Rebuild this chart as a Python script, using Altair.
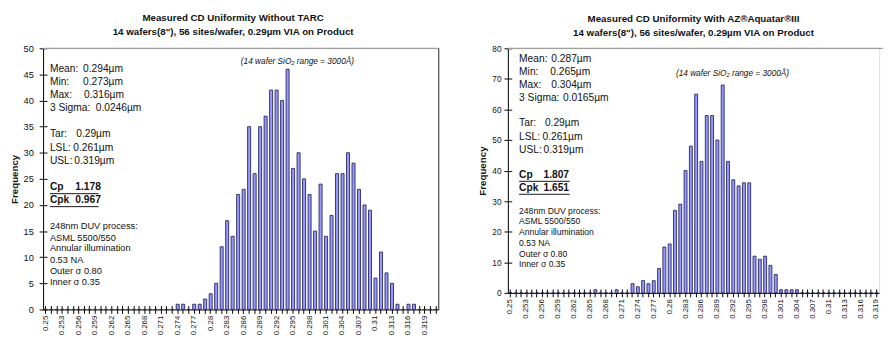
import altair as alt
import pandas as pd

FONT = "Liberation Sans"

# ---------------- data ----------------
bins_left = [f"{0.25 + i / 1000:.3f}" for i in range(72)]    # 0.250 .. 0.321
bins_right = [f"{0.25 + i / 1000:.3f}" for i in range(70)]   # 0.250 .. 0.319

counts_left = [0, 0, 0, 0, 0, 0, 0, 0, 0, 0,
               0, 0, 0, 0, 0, 0, 0, 0, 0, 0,
               0, 0, 0, 0, 1, 1, 0, 1, 1, 2,
               3, 5, 12, 17, 14, 22, 23, 35, 26, 35,
               37, 42, 42, 40, 46, 27, 30, 25, 22, 15,
               24, 14, 18, 26, 26, 30, 28, 23, 20, 19,
               6, 11, 7, 5, 1, 0, 1, 1, 0, 0,
               0, 0]

counts_right = [0, 0, 0, 0, 0, 0, 0, 0, 0, 0,
                0, 0, 0, 0, 0, 0, 1, 0, 0, 0,
                1, 0, 0, 3, 2, 4, 3, 4, 8, 15,
                16, 27, 29, 40, 48, 65, 43, 58, 58, 50,
                68, 43, 37, 35, 36, 36, 12, 11, 12, 9,
                6, 1, 1, 1, 1, 0, 0, 0, 0, 0,
                0, 0, 0, 0, 0, 0, 0, 0, 0, 0]

title_left = ["Measured CD Uniformity Without TARC",
              "14 wafers(8\"), 56 sites/wafer, 0.29µm VIA on Product"]
title_right = ["Measured CD Uniformity With AZ®Aquatar®III",
               "14 wafers(8\"), 56 sites/wafer, 0.29µm VIA on Product"]

stat_labels = ["Mean:", "Min:", "Max:", "3 Sigma:"]
stat_values_left = ["0.294µm", "0.273µm", "0.316µm", "0.0246µm"]
stat_values_right = ["0.287µm", "0.265µm", "0.304µm", "0.0165µm"]
spec_labels = ["Tar:", "LSL:", "USL:"]
spec_values = ["0.29µm", "0.261µm", "0.319µm"]
cp_labels = ["Cp", "Cpk"]
cp_values_left = ["1.178", "0.967"]
cp_values_right = ["1.807", "1.651"]
process_lines = ["248nm DUV process:", "ASML 5500/550", "Annular illumination",
                 "0.53 NA", "Outer σ 0.80", "Inner σ 0.35"]
note = "(14 wafer SiO₂ range = 3000Å)"


def txt(s, x, y, size=10.5, weight="normal", style="normal", align="left"):
    return alt.Chart(pd.DataFrame({"t": [s]})).mark_text(
        align=align, baseline="middle", fontSize=size, fontWeight=weight,
        fontStyle=style, font=FONT, color="#111111"
    ).encode(text="t:N", x=alt.value(x), y=alt.value(y))


def rule(x, x2, y, y2, color, sw=1.0):
    return alt.Chart(pd.DataFrame({"a": [0]})).mark_rule(
        color=color, strokeWidth=sw
    ).encode(x=alt.value(x), x2=alt.value(x2), y=alt.value(y), y2=alt.value(y2))


def panel(bins, counts, ymax, ystep, width, height, title, ylab_size,
          stat_vals, cp_vals, pos, title_dx):
    df = pd.DataFrame({"bin": bins, "count": counts})
    xscale = alt.Scale(paddingInner=0, paddingOuter=0)
    yscale = alt.Scale(domain=[0, ymax], nice=False)
    yvals = list(range(0, ymax + 1, ystep))
    xenc = alt.X(
        "bin:O", sort=bins, scale=xscale,
        axis=alt.Axis(
            title=None, labelAngle=-90, labelFontSize=8, labelFont=FONT,
            labelExpr="(round(toNumber(datum.value)*1000) % 3 == 1) ? toString(toNumber(datum.value)) : ''",
            labelOverlap=False, tickSize=4, labelPadding=2,
            domainColor="black", tickColor="black", labelColor="#111111",
        ),
    )
    yenc = alt.Y(
        "count:Q", scale=yscale,
        axis=alt.Axis(
            values=yvals, title="Frequency",
            titleFont=FONT, titleFontSize=10, titleFontWeight="bold",
            titleColor="#111111", titlePadding=pos["tp"],
            labelFont=FONT, labelFontSize=ylab_size, labelColor="#111111",
            grid=False, tickSize=4, labelPadding=pos["lp"],
            domainColor="black", tickColor="black",
        ),
    )
    bars = alt.Chart(df).mark_bar(
        width=alt.RelativeBandSize(0.55), fill="#9999ff", stroke="#26265a",
        strokeWidth=0.9,
    ).encode(x=xenc, y=yenc)

    # inner halves of the crossing tick marks
    inner = alt.Chart(df).mark_bar(opacity=0).encode(
        x=alt.X("bin:O", sort=bins, scale=xscale,
                axis=alt.Axis(orient="bottom", offset=-4, tickSize=4,
                              labels=False, domain=False, title=None,
                              tickColor="black")),
        y=alt.Y("count:Q", scale=yscale,
                axis=alt.Axis(orient="left", offset=-4, tickSize=4,
                              values=yvals, labels=False, domain=False,
                              title=None, grid=False, tickColor="black")),
    )

    layers = [bars, inner,
              rule(0, width + pos["top_ext"], 0, 0, "#a0a0a0", 1.2)]
    if pos.get("right_border"):
        layers.append(rule(width, width, 0, height, "#333333", 1.0))

    x0 = pos["x0"]
    for i, lab in enumerate(stat_labels):
        layers.append(txt(lab, x0, pos["stat_y"][i]))
        layers.append(txt(stat_vals[i], pos["val_x"][i], pos["stat_y"][i]))
    for i, lab in enumerate(spec_labels):
        layers.append(txt(lab, x0, pos["spec_y"][i]))
        layers.append(txt(spec_values[i], pos["spec_x"][i], pos["spec_y"][i]))
    for i, lab in enumerate(cp_labels):
        layers.append(txt(lab, x0, pos["cp_y"][i], weight="bold"))
        layers.append(txt(cp_vals[i], pos["cp_val_x"], pos["cp_y"][i], weight="bold"))
        uy = pos["cp_y"][i] + 6.5
        layers.append(rule(x0, pos["ul_x2"], uy, uy, "#111111", 1.0))
    for i, s in enumerate(process_lines):
        layers.append(txt(s, x0, pos["proc_y"][i], size=pos["proc_size"]))
    layers.append(txt(note, pos["note_x"], pos["note_y"], size=8.5,
                      style="italic", align="center"))

    return alt.layer(*layers).resolve_axis(x="independent", y="independent").properties(
        width=width, height=height,
        title=alt.TitleParams(
            text=title, font=FONT, fontSize=10, fontWeight="bold",
            color="#111111", anchor="middle", frame="group", lineHeight=14,
            offset=7, dx=title_dx,
        ),
    )


pos_left = dict(
    tp=4, lp=6, top_ext=0, right_border=True, x0=7,
    stat_y=[21, 34.3, 47.7, 61], val_x=[41, 41, 42, 54],
    spec_y=[87.7, 102, 115.3], spec_x=[34, 31, 32],
    cp_y=[142.7, 156], cp_val_x=33, ul_x2=57,
    proc_y=[182.7, 194.3, 205.5, 217, 228.7, 240.3], proc_size=9.5,
    note_x=261, note_y=12.7,
)
pos_right = dict(
    tp=5, lp=3, top_ext=4, right_border=False, x0=11.5,
    stat_y=[10.7, 24.7, 37.3, 51.3], val_x=[44.5, 43.5, 44.5, 56.5],
    spec_y=[76.7, 91.3, 104], spec_x=[38, 35.5, 36.5],
    cp_y=[130, 143.3], cp_val_x=36.5, ul_x2=63.5,
    proc_y=[167.3, 177.3, 188.3, 199.7, 210.7, 221.7], proc_size=8.8,
    note_x=230.5, note_y=25.7,
)

left = panel(bins_left, counts_left, 50, 5, 406, 268, title_left, 9.5,
             stat_values_left, cp_values_left, pos_left, -8)
right = panel(bins_right, counts_right, 80, 10, 381, 251, title_right, 8.5,
              stat_values_right, cp_values_right, pos_right, 0)

chart = alt.hconcat(left, right, spacing=37).properties(padding=0).configure_view(
    stroke=None
).configure(background="white")

chart.save("out.html", embed_options={"renderer": "svg", "actions": False})
